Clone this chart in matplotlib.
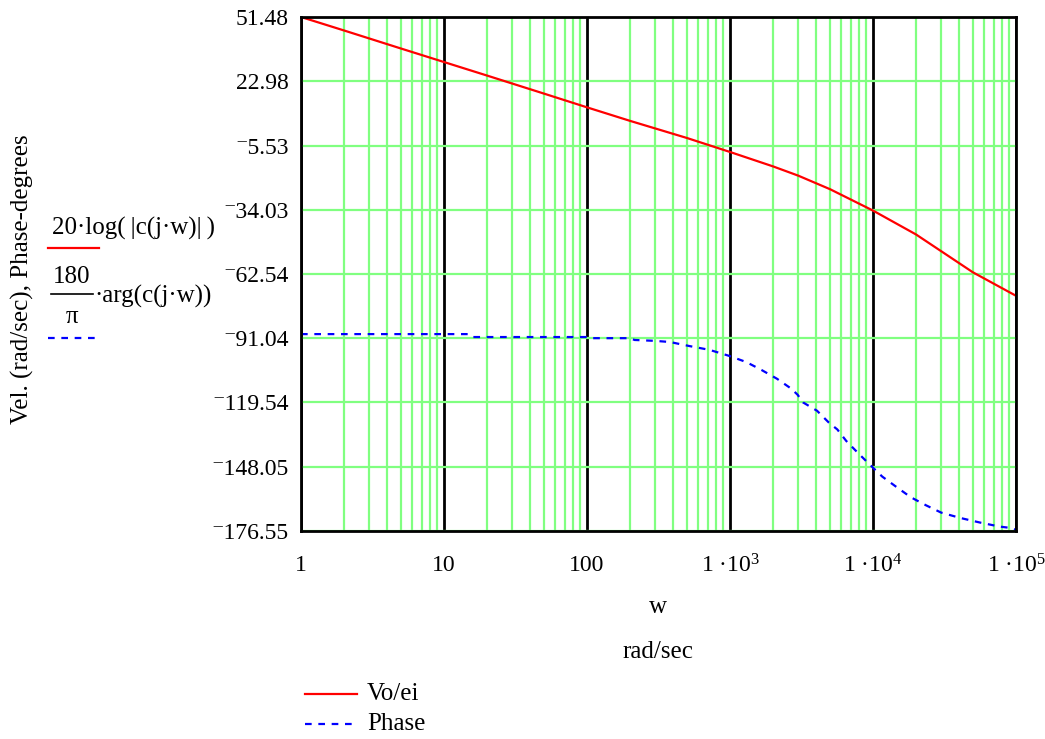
import matplotlib
matplotlib.use('Agg')
import matplotlib.pyplot as plt
from matplotlib.ticker import LogLocator, FixedLocator, NullFormatter

plt.rcParams['font.family'] = ['Liberation Serif', 'DejaVu Serif']
plt.rcParams['mathtext.fontset'] = 'custom'
plt.rcParams['mathtext.rm'] = 'Liberation Serif'
plt.rcParams['mathtext.it'] = 'Liberation Serif:italic'

# magnitude curve, 20*log(|c(jw)|)
w_mag = [1, 2, 5, 10, 20, 50, 100, 200, 500, 1000, 2000, 3000, 5000,
         10000, 20000, 50000, 100000]
mag_db = [51.48, 45.5, 37.5, 31.5, 25.5, 17.5, 11.4, 5.4, -2.2, -8.4, -14.8,
          -18.9, -24.9, -34.4, -45.0, -61.8, -72.2]

# phase curve in degrees
w_ph = [1, 15, 16, 100, 105, 200, 215, 300, 380, 520, 720, 980, 1300, 1660,
        2130, 2680, 2970, 3240, 4060, 4920, 5630, 6500, 7900, 9500, 11600,
        14500, 18400, 23400, 30000, 41000, 56000, 77000, 92000, 100000]
phase_deg = [-89.2, -89.2, -90.5, -90.5, -91.0, -91.0, -91.8, -92.2, -92.7,
             -94.5, -96.2, -98.8, -101.6, -105.1, -109.0, -113.4, -116.1,
             -119.5, -123.2, -128.5, -131.5, -136.6, -142.1, -147.1, -152.4,
             -156.9, -161.6, -165.1, -168.4, -170.8, -172.8, -174.6, -175.2,
             -176.0]

y_ticks = [51.48, 22.98, -5.53, -34.03, -62.54, -91.04, -119.54, -148.05, -176.55]
x_ticks = [1, 10, 100, 1000, 10000, 100000]
x_labels = ['1', '10', '100', '1 ·10$^{3}$', '1 ·10$^{4}$', '1 ·10$^{5}$']

W, H = 1045, 739
fig = plt.figure(figsize=(W / 100, H / 100), dpi=100)
ax = fig.add_axes([301 / W, 1 - 531 / H, (1016 - 301) / W, (531 - 17) / H])

green = '#80ff80'
ax.set_xscale('log')
ax.set_xlim(1, 1e5)
ax.set_ylim(y_ticks[-1], y_ticks[0])

ax.xaxis.set_major_locator(FixedLocator(x_ticks))
ax.xaxis.set_minor_locator(LogLocator(base=10, subs=range(2, 10)))
ax.xaxis.set_minor_formatter(NullFormatter())
ax.set_xticklabels(x_labels)
ax.set_yticks(y_ticks)
ax.set_yticklabels([('\u207b' + f'{abs(v):.2f}') if v < 0 else f'{v:.2f}' for v in y_ticks])

ax.grid(which='minor', axis='x', color=green, lw=1.6)
ax.grid(which='major', axis='y', color=green, lw=1.6)
ax.grid(which='major', axis='x', color='black', lw=2)
ax.set_axisbelow(True)

ax.tick_params(which='both', length=0, labelsize=17)
ax.tick_params(axis='y', pad=9)
ax.tick_params(axis='x', pad=17)
for s in ax.spines.values():
    s.set_linewidth(2)

ax.plot(w_mag, mag_db, color='#ff0000', lw=1.6)
ax.plot(w_ph, phase_deg, color='#0000ff', lw=1.6, ls=(0, (3, 3)))

def px(x, y):
    return x / W, 1 - y / H

fs = 18
# axis titles
fig.text(*px(22, 279), 'Vel. (rad/sec), Phase-degrees', rotation=90,
         ha='center', va='center', fontsize=fs)
fig.text(*px(658, 607), 'w', ha='center', va='center', fontsize=fs)
fig.text(*px(658, 652), 'rad/sec', ha='center', va='center', fontsize=fs)

# trace expressions on the left
fig.text(*px(52, 228), '20·log(\u2009|c(j·w)|\u2009)', ha='left', va='center', fontsize=fs)
fig.add_artist(plt.Line2D([48 / W, 99 / W], [1 - 247.5 / H] * 2, color='#ff0000', lw=1.6))
fig.text(*px(72, 277), '180', ha='center', va='center', fontsize=fs)
fig.add_artist(plt.Line2D([51 / W, 93 / W], [1 - 294 / H] * 2, color='black', lw=1.2))
fig.text(*px(72, 317), 'π', ha='center', va='center', fontsize=fs)
fig.text(*px(94, 296), '·arg(c(j·w))', ha='left', va='center', fontsize=fs)
fig.add_artist(plt.Line2D([48 / W, 99 / W], [1 - 337.5 / H] * 2, color='#0000ff',
                          lw=1.6, ls=(0, (3, 3))))

# legend below
fig.add_artist(plt.Line2D([305 / W, 357 / W], [1 - 694 / H] * 2, color='#ff0000', lw=1.6))
fig.text(*px(367, 694), 'Vo/ei', ha='left', va='center', fontsize=fs)
fig.add_artist(plt.Line2D([305 / W, 357 / W], [1 - 724 / H] * 2, color='#0000ff',
                          lw=1.6, ls=(0, (3, 3))))
fig.text(*px(367, 724), 'Phase', ha='left', va='center', fontsize=fs)

fig.savefig('out.png', dpi=100)
